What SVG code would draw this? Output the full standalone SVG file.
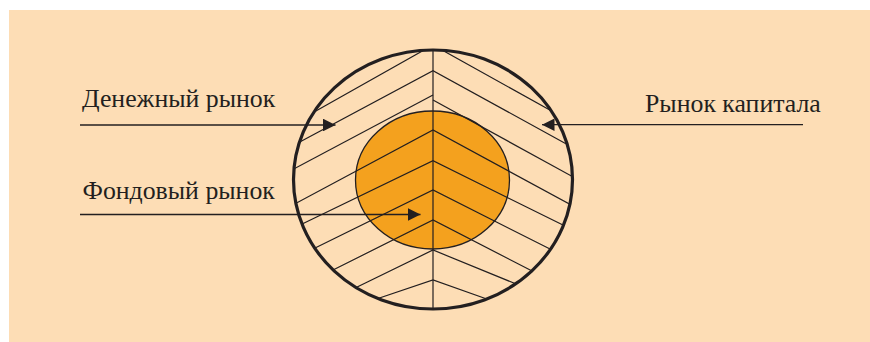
<svg xmlns="http://www.w3.org/2000/svg" width="870" height="342" viewBox="0 0 870 342">
  <defs>
    <style>
      .bg { fill: #FDDDB5; }
      .hatch { fill: none; stroke: #231F20; stroke-width: 1.2; }
      .outer { fill: none; stroke: #231F20; stroke-width: 3.2; }
      .inner { fill: #F4A11E; stroke: #231F20; stroke-width: 1.3; }
      .conn { fill: none; stroke: #231F20; stroke-width: 1.3; }
      .label { font-family: "Liberation Serif", "Times New Roman", serif; font-size: 25.8px; fill: #231F20; }
    </style>
    <clipPath id="clipOuter">
      <ellipse cx="433" cy="179.5" rx="139.5" ry="129.5"/>
    </clipPath>
    <marker id="arrow" viewBox="0 0 12.5 12.6" refX="12.5" refY="6.3" markerWidth="12.5" markerHeight="12.6" markerUnits="userSpaceOnUse" orient="auto">
      <path d="M0,0 L12.5,6.3 L0,12.6 Z" fill="#231F20"/>
    </marker>
  </defs>

  <rect class="bg" x="9" y="10" width="861" height="332"/>

  <g id="capital-market">
    <ellipse class="inner" cx="432.5" cy="180" rx="77" ry="69"/>
    <g clip-path="url(#clipOuter)">
      <polyline class="hatch" points="307,116 433,45 557,114"/>
      <polyline class="hatch" points="296,144 433,70.7 570,146"/>
      <polyline class="hatch" points="290,171 433,95"/>
      <polyline class="hatch" points="433,100 575,178"/>
      <polyline class="hatch" points="291,206 433,130 573,206"/>
      <polyline class="hatch" points="298,226 433,160.7 567,227"/>
      <polyline class="hatch" points="311,250 433,190 554,251"/>
      <polyline class="hatch" points="329,272 433,220 536,273"/>
      <polyline class="hatch" points="351,290 433,250 521,286"/>
      <polyline class="hatch" points="372,300.5 433,280 491,300.5"/>
      <line class="hatch" x1="433" y1="48" x2="433" y2="311"/>
    </g>
    <ellipse class="outer" cx="433" cy="179.5" rx="139.5" ry="129.5"/>
  </g>

  <g id="money-market">
    <text class="label" x="82" y="106.7">Денежный рынок</text>
  </g>
  <g id="stock-market">
    <text class="label" x="82.5" y="199">Фондовый рынок</text>
  </g>
  <g id="capital-market-label">
    <text class="label" x="645" y="111.7">Рынок капитала</text>
  </g>

  <g id="connectors">
    <line class="conn" x1="80" y1="125" x2="335.5" y2="125" marker-end="url(#arrow)"/>
    <line class="conn" x1="80" y1="214.5" x2="420.5" y2="214.5" marker-end="url(#arrow)"/>
    <line class="conn" x1="803" y1="124.7" x2="542" y2="124.7" marker-end="url(#arrow)"/>
  </g>
</svg>
